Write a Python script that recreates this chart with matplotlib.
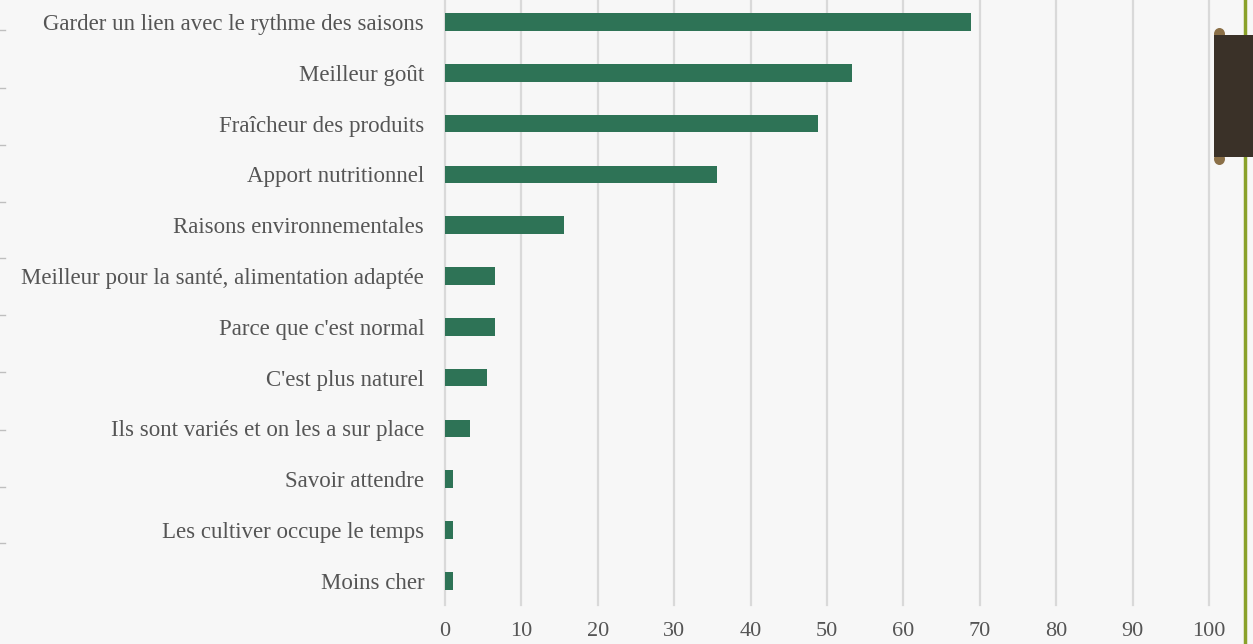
import matplotlib
matplotlib.use("Agg")
import matplotlib.pyplot as plt
from matplotlib.patches import Rectangle, Ellipse
from matplotlib.lines import Line2D

categories = [
    "Garder un lien avec le rythme des saisons",
    "Meilleur goût",
    "Fraîcheur des produits",
    "Apport nutritionnel",
    "Raisons environnementales",
    "Meilleur pour la santé, alimentation adaptée",
    "Parce que c'est normal",
    "C'est plus naturel",
    "Ils sont variés et on les a sur place",
    "Savoir attendre",
    "Les cultiver occupe le temps",
    "Moins cher",
]
values = [68.8, 53.3, 48.8, 35.6, 15.6, 6.5, 6.5, 5.5, 3.3, 1.1, 1.1, 1.1]
xticks = [0, 10, 20, 30, 40, 50, 60, 70, 80, 90, 100]

W, H = 1253, 644
fig = plt.figure(figsize=(W / 100, H / 100), dpi=100)
fig.patch.set_facecolor("#F7F7F7")

x0, x1 = 445, 1209
ytop, ybot = 0, 605
ax = fig.add_axes([x0 / W, 1 - ybot / H, (x1 - x0) / W, (ybot - ytop) / H])
ax.set_facecolor("none")

pos = list(range(len(categories)))
ax.barh(pos, values, height=0.35, color="#2E7356", zorder=3)
c0, sp = 22, 50.8
ax.set_ylim((ybot - c0) / sp, (ytop - c0) / sp)
ax.set_xlim(0, 100)
ax.set_yticks(pos)
ax.set_yticklabels(categories)
ax.set_xticks(xticks)
ax.set_xticklabels([str(t) for t in xticks])
ax.grid(axis="x", color="#D9D9D9", linewidth=1.6, zorder=0)
for gl in ax.get_xgridlines():
    gl.set_clip_on(False)
for s in ax.spines.values():
    s.set_visible(False)
ax.tick_params(axis="both", length=0, labelcolor="#555555")
ax.tick_params(axis="y", pad=15, labelsize=16.5)
ax.tick_params(axis="x", pad=12, labelsize=16)
for lbl in ax.get_xticklabels() + ax.get_yticklabels():
    lbl.set_fontfamily("Liberation Serif")

# decorative elements on the right
fig.add_artist(Line2D([1245 / W, 1245 / W], [0, 1], transform=fig.transFigure,
                      color="#8AA12A", linewidth=2.5, zorder=1))
for yc in (34, 159):
    fig.add_artist(Ellipse((1219.5 / W, 1 - yc / H), 11 / W, 12 / H,
                           transform=fig.transFigure,
                           facecolor="#8B7048", edgecolor="none", zorder=2))
fig.add_artist(Rectangle((1214 / W, 1 - 157 / H), (W - 1214) / W, 122 / H,
                         transform=fig.transFigure, facecolor="#3A3128",
                         edgecolor="none", zorder=3))

# small marks on left edge
for yy in [30, 88, 145, 202, 258, 315, 372, 430, 487, 543]:
    fig.add_artist(Line2D([0, 5 / W], [1 - yy / H, 1 - yy / H],
                          transform=fig.transFigure, color="#BFBFBF",
                          linewidth=1))

fig.savefig("out.png", dpi=100, facecolor=fig.get_facecolor())
